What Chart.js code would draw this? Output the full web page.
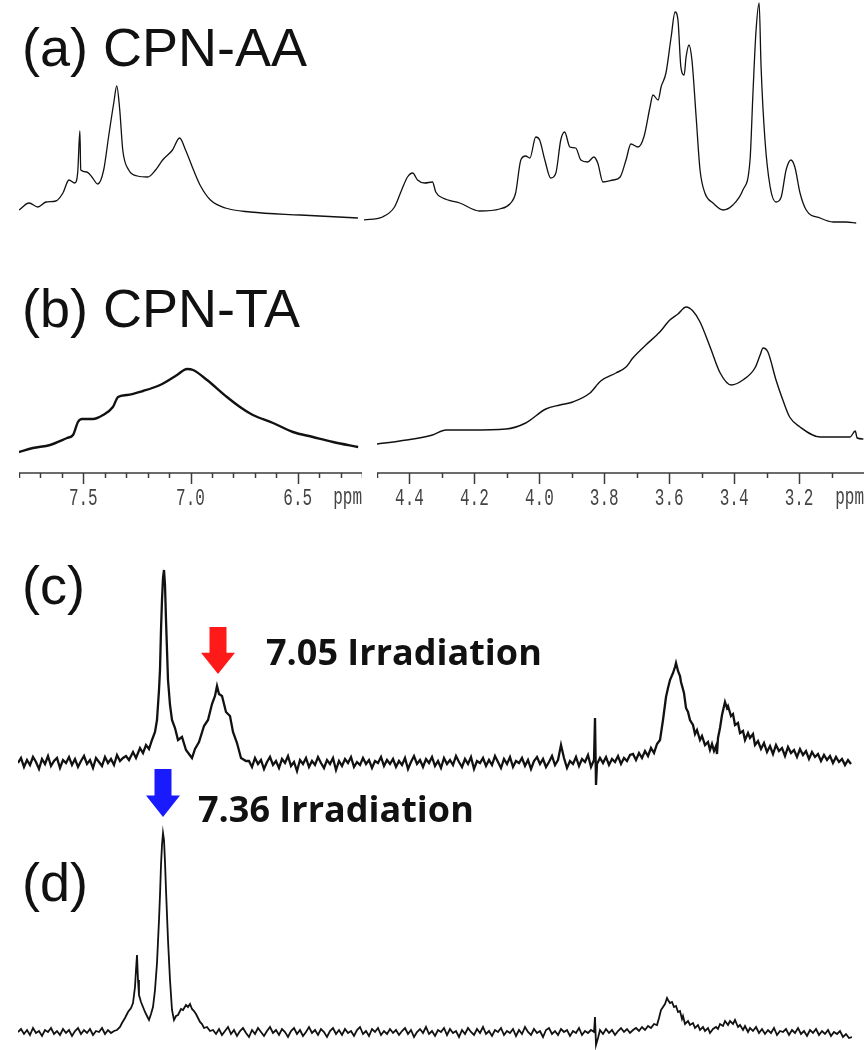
<!DOCTYPE html>
<html>
<head>
<meta charset="utf-8">
<title>1H NMR and NOE difference spectra: CPN-AA / CPN-TA</title>
<script src="https://cdn.jsdelivr.net/npm/chart.js@4"></script>
<style>
  body { margin: 0; background: #fff; }
  #page { position: relative; width: 866px; height: 1050px; overflow: hidden; }
  .box { position: absolute; }
  .tag { position: absolute; font: 54px "Liberation Sans", Arial, sans-serif; line-height: 54px; color: #111; white-space: nowrap; }
  .irr { position: absolute; font: bold 36px "Open Sans", sans-serif; line-height: 36px; color: #111; white-space: nowrap; }
</style>
</head>
<body>
<div id="page">
  <div class="box" style="left:19px;top:0;width:343px;height:225px"><canvas id="aLeft"></canvas></div>
  <div class="box" style="left:364px;top:0;width:500px;height:225px"><canvas id="aRight"></canvas></div>
  <div class="box" style="left:19px;top:290px;width:343px;height:230px"><canvas id="bLeft"></canvas></div>
  <div class="box" style="left:377px;top:290px;width:487px;height:230px"><canvas id="bRight"></canvas></div>
  <div class="box" style="left:18px;top:560px;width:834px;height:230px"><canvas id="cTrace"></canvas></div>
  <div class="box" style="left:18px;top:760px;width:834px;height:290px"><canvas id="dTrace"></canvas></div>

  <div class="tag" style="left:22px;top:20px">(a) CPN-AA</div>
  <div class="tag" style="left:22px;top:281px">(b) CPN-TA</div>
  <div class="tag" style="left:22px;top:558px">(c)</div>
  <div class="tag" style="left:22px;top:855px">(d)</div>
  <div class="irr" style="left:266px;top:634px">7.05 Irradiation</div>
  <div class="irr" style="left:198px;top:791px">7.36 Irradiation</div>
</div>

<script>
// (a) CPN-AA, aromatic region (ppm / intensity, a.u.)
const aLeftPpm = [7.80, 7.753, 7.712, 7.674, 7.628, 7.595, 7.567, 7.540, 7.526, 7.516, 7.512, 7.484, 7.460, 7.433, 7.405, 7.381, 7.358, 7.344, 7.330, 7.316, 7.288, 7.247, 7.200, 7.163, 7.130, 7.084, 7.051, 7.023, 6.986, 6.953, 6.907, 6.837, 6.721, 6.488, 6.219];
const aLeftInt = [15, 22, 18, 23, 24, 32, 45, 42, 53, 94, 55, 53, 48, 41, 55, 90, 122, 139, 115, 75, 55, 49, 48, 55, 65, 75, 87, 75, 55, 39, 25, 17, 13, 10, 7];

// (a) CPN-AA, aliphatic region
const aRightPpm = [4.541, 4.483, 4.446, 4.424, 4.406, 4.390, 4.375, 4.353, 4.329, 4.319, 4.297, 4.245, 4.184, 4.122, 4.091, 4.073, 4.057, 4.042, 4.029, 4.011, 3.999, 3.983, 3.965, 3.949, 3.934, 3.922, 3.906, 3.888, 3.872, 3.851, 3.832, 3.820, 3.804, 3.773, 3.751, 3.733, 3.718, 3.696, 3.678, 3.659, 3.650, 3.634, 3.625, 3.610, 3.594, 3.582, 3.573, 3.564, 3.554, 3.548, 3.539, 3.530, 3.517, 3.505, 3.490, 3.465, 3.434, 3.404, 3.373, 3.351, 3.342, 3.333, 3.323, 3.317, 3.305, 3.289, 3.271, 3.255, 3.240, 3.225, 3.213, 3.197, 3.178, 3.135, 3.095, 3.055, 3.024];
const aRightInt = [5, 8, 18, 35, 48, 52, 45, 42, 43, 33, 27, 22, 14, 16, 21, 32, 65, 69, 67, 88, 85, 65, 47, 52, 85, 93, 78, 77, 65, 63, 68, 62, 43, 45, 48, 65, 81, 78, 88, 118, 130, 125, 138, 152, 188, 213, 205, 158, 150, 168, 180, 165, 108, 55, 32, 22, 15, 20, 35, 65, 132, 192, 222, 158, 85, 38, 23, 28, 55, 65, 58, 32, 15, 7, 3, 3, 2];

// (b) CPN-TA
const bLeftPpm = [7.80, 7.735, 7.655, 7.576, 7.548, 7.525, 7.506, 7.455, 7.408, 7.362, 7.338, 7.296, 7.222, 7.142, 7.063, 7.016, 6.988, 6.923, 6.830, 6.769, 6.709, 6.615, 6.522, 6.429, 6.335, 6.218];
const bLeftInt = [3, 7, 10, 17, 20, 33, 36, 36, 40, 48, 58, 60, 64, 70, 80, 86, 85, 75, 58, 48, 40, 32, 23, 18, 13, 8];
const bRightPpm = [4.50, 4.430, 4.329, 4.288, 4.214, 4.103, 4.042, 3.980, 3.937, 3.897, 3.844, 3.811, 3.764, 3.733, 3.712, 3.672, 3.629, 3.598, 3.573, 3.548, 3.527, 3.505, 3.474, 3.443, 3.409, 3.373, 3.336, 3.320, 3.311, 3.296, 3.271, 3.250, 3.229, 3.197, 3.135, 3.043, 3.027, 3.021, 3.002];
const bRightInt = [11, 14, 20, 25, 25, 26, 32, 46, 50, 53, 62, 74, 82, 88, 97, 110, 123, 135, 141, 148, 144, 133, 108, 82, 70, 75, 87, 100, 107, 103, 75, 55, 38, 28, 18, 18, 24, 17, 16];

// axis ticks (ppm)
const leftMajor = [7.5, 7.0, 6.5];
const leftLabels = ['7.5', '7.0', '6.5'];
const leftMinor = [7.8, 7.7, 7.6, 7.4, 7.3, 7.2, 7.1, 6.9, 6.8, 6.7, 6.6, 6.4, 6.3, 6.2];
const rightMajor = [4.4, 4.2, 4.0, 3.8, 3.6, 3.4, 3.2];
const rightLabels = ['4.4', '4.2', '4.0', '3.8', '3.6', '3.4', '3.2'];
const rightMinor = [4.5, 4.3, 4.1, 3.9, 3.7, 3.5, 3.3, 3.1];

// (c) NOE difference, 7.05 irradiation (trace position / intensity)
const cPos = [
  0, 3, 6, 9, 12, 15, 18, 21, 24, 27, 30, 33, 36, 39, 42, 45, 48, 51, 54, 57, 60, 63, 66, 69, 72, 75, 78, 81, 84, 87, 90, 93, 96, 99, 102, 105, 108,
  111, 115, 118, 122, 125, 128, 131, 134, 137, 139, 141, 142, 143, 144, 145, 146, 147, 148, 149, 150, 152, 154, 157, 160, 164, 168, 171, 174, 177, 181, 186, 190, 194, 197, 199, 201, 204, 208, 212, 215, 219, 223, 228,
  231, 234, 237, 240, 243, 246, 249, 252, 255, 258, 261, 264, 267, 270, 273, 276, 279, 282, 285, 288,
  291, 294, 297, 300, 303, 306, 309, 312, 315, 318, 321, 324, 327, 330, 333, 336, 339, 342, 345, 348,
  351, 354, 357, 360, 363, 366, 369, 372, 375, 378, 381, 384, 387, 390, 393, 396, 399, 402, 405, 408,
  411, 414, 417, 420, 423, 426, 429, 432, 435, 438, 441, 444, 447, 450, 453, 456, 459, 462, 465, 468,
  471, 474, 477, 480, 483, 486, 489, 492, 495, 498, 501, 504, 507, 510, 513, 516, 519, 522, 525, 528,
  531, 534, 537, 540, 543, 546, 549, 552, 555, 558, 561, 564, 567, 570, 573, 576, 577, 578, 579, 582, 585, 588,
  591, 594, 597, 600, 603, 606, 609, 612,
  615, 618, 621, 624, 627, 630, 633, 636, 639, 642, 645, 648, 650, 652, 655, 657, 658, 660, 662, 663,
  666, 668, 670, 672, 675, 677, 679, 682, 684, 687, 690, 692, 694, 696, 698, 699, 700, 702, 704, 707,
  709, 710, 713, 715, 717, 720, 722, 725, 727, 730, 732, 735, 737, 740, 743,
  746, 749, 752, 755, 758, 761, 764, 767, 770, 773, 776, 779, 782, 785, 788, 791, 794, 797, 800, 803,
  806, 809, 812, 815, 818, 821, 824, 827, 830, 833];
const cVal = [
  7, 12, 3, 10, 5, 13, 8, 1, 11, 6, 14, 4, 9, 12, 2, 10, 7, 13, 5, 11, 3, 9, 14, 6, 10, 2, 12, 8, 4, 13, 7, 11, 5, 15, 9, 12, 14,
  10, 18, 12, 22, 17, 25, 21, 30, 38, 50, 80, 100, 140, 170, 192, 200, 185, 150, 120, 90, 65, 50, 42, 30, 33, 20, 16, 12, 21, 28, 44, 50, 66, 74, 84, 76, 74, 58, 54, 38, 27, 12, 9,
  9, 3, 12, 6, 10, 1, 8, 13, 5, 9, 2, 11, 7, 14, 4, 8, -1, 10, 6, 12,
  3, 9, 5, 13, 7, 2, 10, 6, 12, 0, 9, 4, 11, 7, 13, 3, 8, 5, 12, 6,
  10, 2, 9, 7, 13, 4, 10, 6, 11, 3, 9, 5, 12, 1, 8, 14, 6, 10, 3, 11,
  7, 13, 4, 9, 2, 12, 6, 10, 5, 14, 8, 3, 11, 6, 13, 1, 9, 7, 12, 4,
  10, 5, 14, 8, 2, 11, 6, 13, 3, 9, 7, 12, 4, 10, 1, 9, 13, 6, 11, 3,
  8, 14, 5, 10, 25, 12, 2, 9, 6, 13, 4, 11, 8, 15, 3, 10, 52, -15, 6, 12, 7, 13,
  5, 11, 8, 14, 6, 12, 9, 15,
  16, 10, 17, 12, 19, 14, 22, 17, 26, 30, 50, 73, 82, 90, 97, 103, 107, 99, 94, 88,
  77, 62, 58, 50, 45, 36, 40, 30, 34, 25, 28, 20, 26, 19, 24, 16, 32, 42, 55, 68,
  62, 64, 54, 56, 45, 47, 37, 39, 30, 37, 32, 36, 25, 29, 21,
  27, 18, 24, 16, 25, 19, 22, 14, 23, 17, 20, 13, 21, 15, 19, 11, 18, 13, 16, 9,
  15, 10, 14, 7, 13, 8, 11, 5, 10, 6];

// (d) NOE difference, 7.36 irradiation
const dPos = [
  0, 3, 6, 9, 12, 15, 18, 21, 24, 27, 30, 33, 36, 39, 42, 45, 48, 51, 54, 57, 60, 63, 66, 69, 72, 75, 78, 81, 84, 87, 90, 93, 96,
  99, 102, 104, 107, 110, 113, 115, 117, 118, 119, 120, 121, 123, 125, 127, 129, 131, 133, 135, 137, 139, 141, 142, 143, 144, 145, 146, 147, 148, 149,
  150, 152, 154, 156, 158, 160, 163, 165, 168, 170, 172, 174, 176, 178, 180, 182, 184, 186, 189, 192, 195, 198,
  201, 204, 207, 210, 213, 216, 219, 222, 225, 228, 231, 234, 237, 240, 243, 246, 249, 252, 255, 258,
  261, 264, 267, 270, 273, 276, 279, 282, 285, 288, 291, 294, 297, 300, 303, 306, 309, 312, 315, 318,
  321, 324, 327, 330, 333, 336, 339, 342, 345, 348, 351, 354, 357, 360, 363, 366, 369, 372, 375, 378,
  381, 384, 387, 390, 393, 396, 399, 402, 405, 408, 411, 414, 417, 420, 423, 426, 429, 432, 435, 438,
  441, 444, 447, 450, 453, 456, 459, 462, 465, 468, 471, 474, 477, 480, 483, 486, 489, 492, 495, 498,
  501, 504, 507, 510, 513, 516, 519, 522, 525, 528, 531, 534, 537, 540, 543, 546, 549, 552, 555, 558,
  561, 564, 567, 570, 573,
  576, 577, 578, 580, 582, 585, 588, 591, 594, 597, 600, 603, 606, 609, 612, 615, 618, 621,
  624, 627, 630, 633, 636, 639, 641, 643, 645, 647, 649, 650, 652, 654, 656, 658, 660, 662, 664, 665,
  667, 670, 672, 675, 677, 680, 682, 685, 687, 690, 692, 695, 698, 700, 702, 705, 707, 710, 712, 715,
  717, 720, 722, 725, 727, 730, 732, 735, 738, 741,
  744, 747, 750, 753, 756, 759, 762, 765, 768, 771, 774, 777, 780, 783, 786, 789, 792, 795, 798, 801,
  804, 807, 810, 813, 816, 819, 822, 825, 828, 831, 834];
const dVal = [
  8, 11, 6, 10, 5, 12, 7, 9, 4, 10, 8, 12, 6, 9, 5, 11, 7, 10, 4, 9, 12, 6, 10, 7, 11, 5, 9, 8, 12, 6, 10, 7, 9,
  10, 13, 17, 22, 28, 32, 37, 53, 70, 85, 60, 45, 38, 33, 28, 24, 20, 26, 33, 50, 77, 120, 145, 175, 195, 207, 200, 178, 150, 125,
  100, 60, 30, 20, 24, 25, 31, 30, 35, 33, 36, 31, 29, 26, 22, 18, 16, 12, 13, 9, 10, 6,
  11, 5, 9, 13, 6, 10, 4, 9, 12, 7, 3, 10, 6, 12, 8, 4, 9, 13, 7, 10,
  5, 11, 8, 3, 9, 12, 6, 10, 4, 8, 13, 7, 10, 5, 11, 8, 3, 9, 12, 6,
  10, 5, 11, 7, 9, 4, 10, 13, 6, 9, 4, 11, 8, 12, 5, 9, 6, 11, 7, 10,
  5, 9, 12, 6, 10, 3, 8, 11, 7, 13, 6, 9, 4, 10, 8, 12, 5, 11, 7, 9,
  3, 10, 6, 12, 8, 5, 11, 7, 13, 6, 9, 4, 10, 8, 12, 5, 9, 7, 11, 4,
  10, 6, 13, 8, 5, 11, 7, 9, 3, 10, 12, 6, 9, 5, 11, 8, 10, 4, 9, 7,
  12, 5, 9, 7, 10,
  8, 23, -5, 2, 10, 6, 11, 7, 10, 5, 9, 12, 8, 11, 7, 10, 12, 9,
  13, 10, 14, 12, 16, 15, 22, 30, 33, 36, 42, 40, 37, 38, 33, 34, 28, 29, 21, 24,
  16, 19, 15, 17, 12, 15, 10, 13, 9, 12, 7, 11, 13, 11, 16, 14, 19, 15, 19, 16,
  20, 13, 15, 10, 14, 8, 12, 9, 13, 7,
  11, 6, 10, 7, 12, 5, 9, 8, 11, 5, 10, 7, 12, 6, 9, 4, 10, 7, 11, 5,
  9, 6, 10, 4, 8, 6, 9, 3, 6, 2, 3];

// irradiation markers: trace position, arrow top / tip intensity
const redArrow = { at: 200, from: 143, to: 96, color: '#ff1a1a' };
const blueArrow = { at: 145, from: 271, to: 223, color: '#1a1aff' };

const ppmAxis = {
  id: 'ppmAxis',
  afterDraw(chart, args, o) {
    if (!o.major) return;
    const { ctx, chartArea: a, scales: { x } } = chart;
    const y0 = a.bottom;
    ctx.save();
    ctx.strokeStyle = '#3c3c3c';
    ctx.lineWidth = 1.5;
    ctx.beginPath();
    ctx.moveTo(a.left, y0);
    ctx.lineTo(a.right, y0);
    o.minor.forEach(v => {
      const px = Math.round(x.getPixelForValue(v)) + 0.5;
      ctx.moveTo(px, y0);
      ctx.lineTo(px, y0 + 5);
    });
    o.major.forEach(v => {
      const px = Math.round(x.getPixelForValue(v)) + 0.5;
      ctx.moveTo(px, y0);
      ctx.lineTo(px, y0 + 11);
    });
    ctx.stroke();
    ctx.fillStyle = '#444';
    ctx.font = '16px "Liberation Mono", monospace';
    ctx.textBaseline = 'alphabetic';
    ctx.textAlign = 'center';
    o.major.forEach((v, i) => {
      ctx.save();
      ctx.translate(x.getPixelForValue(v), y0 + 32);
      ctx.scale(1, 1.45);
      ctx.fillText(o.labels[i], 0, 0);
      ctx.restore();
    });
    ctx.textAlign = 'right';
    ctx.save();
    ctx.translate(a.right, y0 + 31);
    ctx.scale(1, 1.45);
    ctx.fillText('ppm', 0, 0);
    ctx.restore();
    ctx.restore();
  }
};

const irrArrow = {
  id: 'irrArrow',
  afterDatasetsDraw(chart, args, o) {
    if (!o.color) return;
    const { ctx, scales: { x, y } } = chart;
    const cx = x.getPixelForValue(o.at);
    const top = y.getPixelForValue(o.from);
    const tip = y.getPixelForValue(o.to);
    const neck = top + (tip - top) * 0.55;
    ctx.save();
    ctx.fillStyle = o.color;
    ctx.beginPath();
    ctx.moveTo(cx - 8.5, top);
    ctx.lineTo(cx + 8.5, top);
    ctx.lineTo(cx + 8.5, neck);
    ctx.lineTo(cx + 17, neck);
    ctx.lineTo(cx, tip);
    ctx.lineTo(cx - 17, neck);
    ctx.lineTo(cx - 8.5, neck);
    ctx.closePath();
    ctx.fill();
    ctx.restore();
  }
};

function spectrum(id, xs, ys, cfg) {
  return new Chart(document.getElementById(id), {
    type: 'line',
    data: {
      datasets: [{
        data: xs.map((x, i) => ({ x: x, y: ys[i] })),
        borderColor: '#111',
        borderWidth: cfg.width,
        pointRadius: 0,
        tension: 0,
        cubicInterpolationMode: cfg.smooth ? 'monotone' : 'default',
        clip: false
      }]
    },
    options: {
      responsive: true,
      maintainAspectRatio: false,
      animation: false,
      events: [],
      layout: { padding: { bottom: cfg.bottom || 0 } },
      plugins: {
        legend: { display: false },
        tooltip: { enabled: false },
        ppmAxis: cfg.axis || {},
        irrArrow: cfg.arrow || {}
      },
      scales: {
        x: { type: 'linear', display: false, reverse: !!cfg.reverse, min: cfg.xMin, max: cfg.xMax },
        y: { display: false, min: cfg.yMin, max: cfg.yMax }
      }
    },
    plugins: [ppmAxis, irrArrow]
  });
}

spectrum('aLeft', aLeftPpm, aLeftInt, { width: 1.3, smooth: true, reverse: true, xMin: 6.2, xMax: 7.8, yMin: 0, yMax: 225 });
spectrum('aRight', aRightPpm, aRightInt, { width: 1.3, smooth: true, reverse: true, xMin: 3.0, xMax: 4.54, yMin: 0, yMax: 225 });
spectrum('bLeft', bLeftPpm, bLeftInt, { width: 2.4, smooth: true, reverse: true, xMin: 6.2, xMax: 7.8, yMin: -18, yMax: 165, bottom: 47,
  axis: { major: leftMajor, labels: leftLabels, minor: leftMinor } });
spectrum('bRight', bRightPpm, bRightInt, { width: 1.4, smooth: true, reverse: true, xMin: 3.0, xMax: 4.5, yMin: -18, yMax: 165, bottom: 47,
  axis: { major: rightMajor, labels: rightLabels, minor: rightMinor } });
spectrum('cTrace', cPos, cVal, { width: 2.3, xMin: 0, xMax: 834, yMin: -20, yMax: 210, arrow: redArrow });
spectrum('dTrace', dPos, dVal, { width: 1.8, xMin: 0, xMax: 834, yMin: -10, yMax: 280, arrow: blueArrow });
</script>
</body>
</html>
